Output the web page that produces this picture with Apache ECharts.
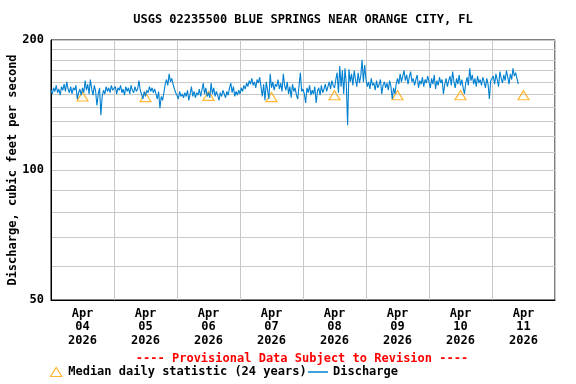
<!DOCTYPE html>
<html>
<head>
<meta charset="utf-8">
<script src="https://cdn.jsdelivr.net/npm/echarts@6/dist/echarts.min.js"></script>
<style>html,body{margin:0;padding:0;background:#fff}#c{width:576px;height:384px}</style>
</head>
<body>
<div id="c"></div>
<script>
// Day labels (category axis, one per day, Apr 4 - Apr 11 2026)
const dayLabels = ['Apr\n04\n2026','Apr\n05\n2026','Apr\n06\n2026','Apr\n07\n2026','Apr\n08\n2026','Apr\n09\n2026','Apr\n10\n2026','Apr\n11\n2026'];
// Median daily statistic (24 years), one per day
const medianValues = [148, 147.5, 148.5, 147.5, 149, 149, 149, 149];
// Discharge, cfs, every 30 minutes from Apr 4 00:00
const stepHours = 0.5;
const discharge = [
153,150,155,152,157,151,154,149,156,153,158,152,160,154,151,156,150,155,153,157,146,151,154,149,
155,151,161,153,158,150,162,154,149,157,152,141,150,155,134,148,153,150,156,152,155,151,157,153,
152,156,150,155,153,157,151,154,149,156,152,155,150,157,153,151,156,152,154,161,153,150,146,152,
148,153,151,156,152,155,151,154,150,146,152,139,148,145,151,158,162,157,167,160,163,158,154,151,
149,146,152,148,150,147,151,148,153,145,150,156,148,152,147,151,149,154,148,153,159,150,155,148,
151,147,159,150,155,148,152,149,145,151,148,153,150,147,152,149,155,159,151,156,148,152,149,153,
150,155,152,157,154,159,156,161,158,163,157,160,155,162,159,164,156,148,158,145,160,153,146,167,
155,160,153,158,156,162,154,159,152,167,157,153,160,150,156,147,158,152,155,149,146,157,168,152,
154,150,143,155,151,157,149,153,150,156,143,152,155,149,157,151,154,158,152,156,160,154,161,157,
155,162,168,151,174,156,170,150,172,158,127,171,160,167,157,170,162,156,168,159,165,180,160,175,
162,156,160,154,163,157,159,153,161,155,158,162,150,157,160,155,159,153,161,156,146,155,150,158,
163,158,167,160,165,170,161,166,158,164,169,160,163,157,162,166,155,161,158,164,156,162,159,165,
160,155,163,158,166,154,161,157,164,159,162,150,158,163,156,161,165,157,169,160,155,163,158,166,
157,162,155,150,159,164,157,172,161,166,158,163,156,165,159,162,157,164,160,155,163,158,146,161,
160,165,158,167,162,156,169,163,159,166,161,170,164,158,167,162,172,165,168,163,158
];
// Y axis grid values and labelled values
const yGridValues = [50,60,70,80,90,100,110,120,130,140,150,160,170,180,190,200];
const yLabelValues = [50,100,200];

const font = '"DejaVu Sans Mono", "Liberation Mono", monospace';
const dischargeData = discharge.map((v, i) => [i * stepHours, v]);

const chart = echarts.init(document.getElementById('c'), null, {renderer: 'canvas'});
chart.setOption({
  animation: false,
  backgroundColor: '#fff',
  title: [
    {text: 'USGS 02235500 BLUE SPRINGS NEAR ORANGE CITY, FL', left: 303, top: 14, textAlign: 'center', padding: 0,
     textStyle: {fontFamily: font, fontSize: 12, fontWeight: 'bold', color: '#000'}},
    {text: '---- Provisional Data Subject to Revision ----', left: 302, top: 353, textAlign: 'center', padding: 0,
     textStyle: {fontFamily: font, fontSize: 12, fontWeight: 'bold', color: '#ff0000'}}
  ],
  legend: [
    {data: ['Median daily statistic (24 years)'], left: 50, top: 366, padding: 0,
     icon: 'path://M5,0L10,8L0,8Z', itemWidth: 14, itemHeight: 9,
     itemStyle: {color: 'rgba(0,0,0,0)', borderColor: '#FFA500', borderWidth: 1.2},
     textStyle: {fontFamily: font, fontSize: 12, fontWeight: 'bold', color: '#000'}},
    {data: ['Discharge'], left: 308, top: 366, padding: 0,
     icon: 'rect', itemWidth: 20, itemHeight: 1.5,
     itemStyle: {color: '#0080D0'},
     textStyle: {fontFamily: font, fontSize: 12, fontWeight: 'bold', color: '#000'}}
  ],
  grid: {left: 51, right: 21, top: 40, bottom: 84, show: true, borderColor: '#000', borderWidth: 1,
         backgroundColor: '#fff', containLabel: false, outerBoundsMode: 'none'},
  xAxis: [
    {type: 'category', data: dayLabels, boundaryGap: true, position: 'bottom',
     axisLine: {show: true, lineStyle: {color: '#000', width: 1}},
     axisTick: {show: false},
     splitLine: {show: true, interval: 0, lineStyle: {color: '#c8c8c8', width: 1}},
     axisLabel: {interval: 0, margin: 7, fontFamily: font, fontSize: 12, fontWeight: 'bold', color: '#000', lineHeight: 13.5}},
    {type: 'value', min: 0, max: 192, show: false, splitLine: {show: false}}
  ],
  yAxis: {
    type: 'log', logBase: 2, min: 50, max: 200,
    name: 'Discharge, cubic feet per second', nameLocation: 'middle', nameGap: 32, nameMoveOverlap: false,
    nameTextStyle: {fontFamily: font, fontSize: 12, fontWeight: 'bold', color: '#000'},
    axisLine: {show: true, lineStyle: {color: '#000', width: 1}},
    axisTick: {show: false, customValues: yGridValues},
    axisLabel: {customValues: yLabelValues, margin: 7, fontFamily: font, fontSize: 12, fontWeight: 'bold', color: '#000',
                formatter: v => String(Math.round(v))},
    splitLine: {show: true, lineStyle: {color: '#c8c8c8', width: 1}},
    minorTick: {show: false}, minorSplitLine: {show: false}
  },
  series: [
    {name: 'Median daily statistic (24 years)', type: 'scatter', xAxisIndex: 0, yAxisIndex: 0,
     data: medianValues, symbol: 'triangle', symbolSize: [11, 9], z: 2,
     itemStyle: {color: 'rgba(0,0,0,0)', borderColor: '#FFA500', borderWidth: 1.2}},
    {name: 'Discharge', type: 'line', xAxisIndex: 1, yAxisIndex: 0, data: dischargeData,
     showSymbol: false, symbol: 'none', z: 3,
     lineStyle: {color: '#0080D0', width: 1.1}, itemStyle: {color: '#0080D0'}}
  ]
});
</script>
</body>
</html>
